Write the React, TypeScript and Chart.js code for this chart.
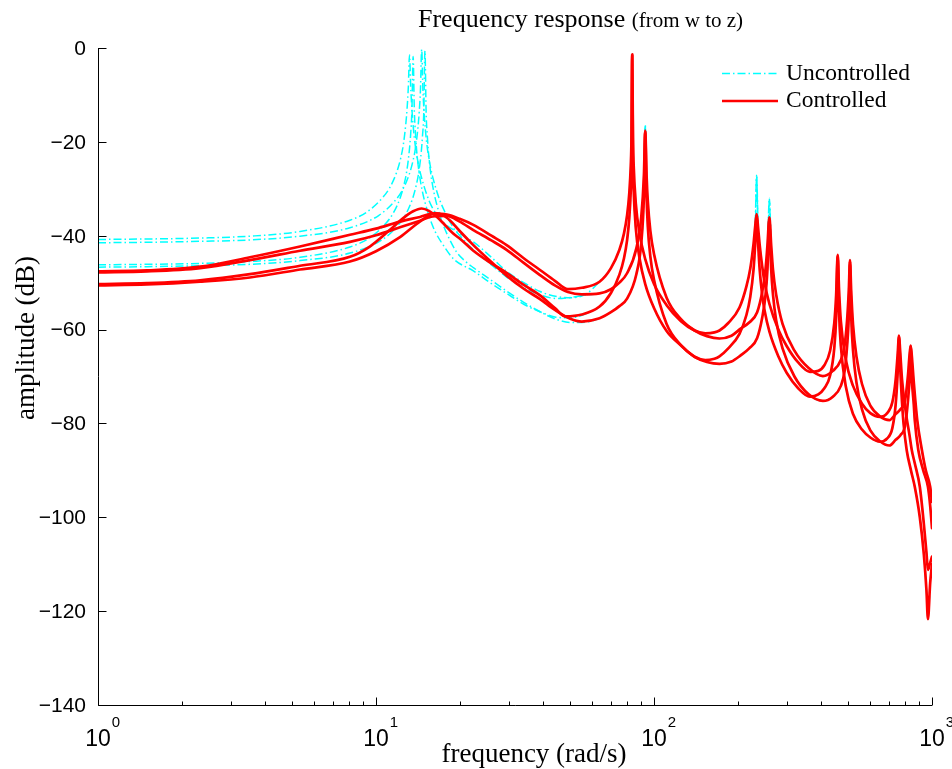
import React, { useEffect, useRef } from 'react';
import { Chart, registerables } from 'chart.js';

Chart.register(...registerables);

type Pt = [number, number];

// ---- Controlled (red, solid) : [frequency rad/s, amplitude dB]
const controlled1: Pt[] = [
  [1, -47.6], [1.5, -47.4], [2.33, -46.6], [3.52, -44.6], [5.33, -42.3], [8.06, -39.8], [10, -38.5],
  [12.2, -37.0], [14.4, -36.0], [16, -35.3], [18, -35.5], [20, -36.4], [22.4, -37.7], [26, -40.0],
  [29.5, -42.0], [34, -44.8], [38.9, -47.3], [44, -49.6], [49, -51.4], [55, -51.1], [63.7, -49.8],
  [70, -46.9], [75.1, -43.0], [78, -39.5], [80, -35.7], [81.5, -30.9], [82.5, -25.0], [83, -19.0],
  [83.5, -1.35], [84, -19.0], [84.5, -25.0], [86, -33.1], [88.7, -39.5], [93, -45.0], [100, -50.3],
  [111, -54.8], [125, -58.2], [140, -60.2], [153, -60.8], [165, -60.6], [172, -60.2], [185, -58.6],
  [203, -55.3], [215, -50.8], [222, -47.0], [228, -41.8], [231, -38.3], [234, -35.4], [237, -38.5],
  [240, -42.0], [245, -46.5], [250, -50.0], [260, -54.5], [280, -60.0], [300, -63.5], [330, -67.0],
  [364, -69.0], [390, -68.8], [410, -67.6], [430, -64.5], [445, -58.7], [452, -52.7], [458, -44.1],
  [463, -51.4], [470, -58.2], [490, -66.5], [520, -72.0], [560, -75.8], [600, -77.8], [650, -78.6],
  [690, -77.8], [720, -75.5], [740, -70.7], [752, -65.5], [761, -61.3], [768, -64.5], [780, -70.6],
  [800, -76.4], [809, -78.5], [830, -82.5], [846, -85.7], [867, -88.5], [904, -93.5], [935, -101.5],
  [955, -107.5], [967, -111.2], [982, -110.0], [1000, -108.4],
];

const controlled2: Pt[] = [
  [1, -47.8], [1.5, -47.6], [2.33, -46.9], [3.52, -45.2], [5.33, -43.2], [8.06, -41.3], [10, -39.9],
  [12.2, -38.2], [14.4, -36.8], [16, -35.9], [18, -35.8], [20, -37.0], [22.4, -38.8], [26, -41.0],
  [29.5, -43.0], [34, -45.8], [38.9, -48.4], [44, -50.6], [49, -52.0], [55, -52.5], [63.7, -52.3],
  [70, -51.4], [75.1, -50.0], [80, -48.0], [86.4, -42.7], [90, -36.0], [92, -27.1], [93, -17.6],
  [94, -26.9], [95, -32.7], [97, -38.9], [100, -43.9], [111, -53.2], [125, -57.8], [140, -60.2],
  [155, -61.4], [172, -61.9], [190, -61.3], [205, -59.8], [220, -58.5], [235, -56.3], [245, -52.0],
  [252, -47.0], [256, -41.9], [260, -36.1], [264, -42.1], [268, -47.3], [275, -52.5], [290, -58.8],
  [320, -64.5], [360, -68.2], [405, -69.9], [440, -68.8], [470, -66.5], [485, -63.3], [495, -58.0],
  [502, -51.7], [507, -45.2], [512, -51.7], [520, -59.0], [535, -65.8], [560, -71.6], [600, -76.2],
  [650, -78.5], [703, -79.3], [740, -78.0], [770, -77.0], [800, -75.1], [820, -69.6], [830, -65.5],
  [838, -63.4], [846, -65.6], [860, -71.2], [885, -79.3], [920, -85.7], [950, -90.0], [985, -93.5],
  [1000, -96.7],
];

const controlled3: Pt[] = [
  [1, -50.3], [1.5, -50.1], [2.33, -49.5], [3.52, -48.2], [5.33, -46.4], [8.06, -44.5], [9.5, -42.3],
  [11.2, -38.8], [12.5, -36.3], [13.6, -34.8], [14.6, -34.2], [15.5, -34.7], [16.5, -35.9], [17.5, -37.4],
  [19, -39.6], [20.1, -40.7], [22.4, -43.2], [26, -45.9], [29.5, -47.9], [34, -50.5], [38.9, -52.7],
  [44, -55.4], [48, -57.2], [55, -56.8], [63.7, -55.1], [70, -52.2], [75.1, -48.3], [78, -44.8],
  [80, -41.0], [81.5, -36.2], [82.5, -30.3], [83, -24.3], [83.5, -1.6], [84, -24.3], [84.5, -30.3],
  [86, -38.4], [88.7, -44.8], [93, -50.3], [100, -55.4], [111, -60.3], [125, -63.4], [140, -65.8],
  [153, -66.5], [165, -66.2], [172, -65.7], [185, -64.0], [203, -60.9], [215, -56.9], [222, -53.0],
  [228, -47.3], [231, -42.2], [234, -35.6], [237, -41.9], [240, -47.3], [245, -52.6], [250, -56.0],
  [260, -60.4], [280, -65.7], [300, -69.2], [330, -72.5], [364, -74.3], [390, -73.8], [410, -72.5],
  [430, -69.8], [445, -64.0], [452, -57.5], [458, -44.4], [463, -56.2], [470, -63.5], [490, -72.2],
  [520, -78.0], [560, -81.3], [600, -83.0], [650, -83.9], [690, -83.2], [720, -81.0], [740, -76.0],
  [752, -69.5], [761, -61.5], [768, -67.8], [780, -75.4], [790, -80.0], [811, -85.7], [840, -90.0],
  [867, -93.5], [904, -100.0], [935, -108.0], [955, -115.5], [967, -121.7], [985, -114.0], [1000, -110.0],
];

const controlled4: Pt[] = [
  [1, -50.6], [1.5, -50.4], [2.33, -49.8], [3.52, -48.9], [5.33, -47.2], [8.06, -45.5], [10, -43.3],
  [12.2, -40.3], [14, -37.5], [15.3, -35.9], [16.3, -35.2], [17.3, -35.5], [18.5, -36.8], [20, -39.0],
  [22.4, -42.0], [26, -45.6], [29.5, -48.5], [34, -51.3], [38.9, -53.5], [44, -55.8], [50, -57.7],
  [55, -58.3], [63.7, -57.6], [70, -56.3], [75.1, -55.0], [80, -53.4], [86.4, -48.2], [90, -41.5],
  [92, -31.5], [93, -17.8], [94, -31.3], [95, -38.0], [97, -44.4], [100, -49.4], [111, -58.8],
  [125, -63.3], [140, -65.8], [155, -66.9], [172, -67.3], [190, -66.8], [205, -65.5], [220, -64.0],
  [235, -61.8], [245, -57.5], [252, -52.5], [256, -47.0], [260, -36.4], [264, -47.2], [268, -52.6],
  [275, -58.0], [290, -64.0], [320, -70.0], [360, -73.8], [405, -75.2], [440, -74.3], [470, -72.0],
  [485, -68.8], [495, -63.5], [502, -57.0], [507, -45.5], [512, -57.0], [520, -64.5], [535, -71.3],
  [560, -77.0], [600, -81.5], [650, -83.8], [703, -84.7], [740, -83.5], [770, -82.5], [800, -80.5],
  [820, -75.0], [830, -70.5], [838, -63.6], [846, -70.5], [860, -76.0], [867, -79.3], [893, -85.7],
  [930, -90.0], [967, -93.5], [985, -97.5], [1000, -102.3],
];

// ---- Uncontrolled (cyan, dash-dot): low-frequency part (own values)
const uncontrolledLow1: Pt[] = [
  [1, -40.8], [1.5, -40.7], [2.33, -40.5], [3.52, -40.1], [5.33, -39.1], [8.06, -36.7], [9.24, -35.0],
  [10.56, -31.9], [11.22, -29.7], [11.88, -26.4], [12.28, -23.4], [12.54, -20.6], [12.8, -16.2],
  [12.94, -12.8], [13.07, -8.3], [13.2, -1.5], [13.33, -8.3], [13.46, -12.9], [13.6, -16.5],
  [13.86, -21.0], [14.26, -25.2], [14.52, -27.2], [15.18, -31.0], [15.84, -33.7], [17.2, -36.8],
  [19.8, -39.4], [22.4, -41.3], [26, -44.6], [29.5, -47.6], [34, -50.0], [38.9, -51.9], [45, -53.0],
  [51, -53.2], [57, -52.4],
];
const uncontrolledLow2: Pt[] = [
  [1, -41.5], [1.5, -41.4], [2.33, -41.2], [3.52, -40.9], [5.33, -40.1], [8.06, -38.3], [10.22, -35.7],
  [11.68, -32.6], [12.41, -30.4], [13.14, -27.1], [13.58, -24.1], [13.87, -21.3], [14.16, -16.9],
  [14.31, -13.5], [14.45, -9.0], [14.6, -0.3], [14.75, -9.0], [14.89, -13.6], [15.04, -17.2],
  [15.33, -21.7], [15.77, -25.9], [16.06, -27.9], [16.79, -31.7], [17.52, -34.4], [18.98, -38.3],
  [20.4, -40.5], [22.4, -43.0], [26, -46.2], [29.5, -48.8], [34, -51.0], [38.9, -52.6], [45, -53.4],
  [51, -53.1], [57, -52.6],
];
const uncontrolledLow3: Pt[] = [
  [1, -46.2], [1.5, -46.1], [2.33, -45.9], [3.52, -45.5], [5.33, -44.6], [8.06, -42.4], [9.52, -40.4],
  [10.88, -37.3], [11.56, -35.1], [12.24, -31.8], [12.65, -28.8], [12.92, -26.0], [13.19, -21.6],
  [13.33, -18.2], [13.46, -13.5], [13.6, -1.8], [13.74, -13.5], [13.87, -18.3], [14.01, -22.0],
  [14.28, -26.4], [14.69, -30.6], [14.96, -32.6], [15.64, -36.4], [16.32, -39.1], [17.68, -42.5],
  [19.04, -45.0], [22.4, -47.5], [26, -50.2], [29.5, -52.3], [34, -54.6], [38.9, -56.2], [44, -57.3],
  [50, -57.5], [57, -56.6],
];
const uncontrolledLow4: Pt[] = [
  [1, -46.7], [1.5, -46.6], [2.33, -46.4], [3.52, -46.1], [5.33, -45.3], [8.06, -43.7], [10.5, -40.9],
  [12, -37.8], [12.75, -35.6], [13.5, -32.3], [13.95, -29.3], [14.25, -26.5], [14.55, -22.1],
  [14.7, -18.7], [14.85, -14.0], [15.0, -0.6], [15.15, -14.0], [15.3, -18.8], [15.45, -22.4],
  [15.75, -26.9], [16.2, -31.1], [16.5, -33.1], [17.25, -36.9], [18, -39.6], [19.5, -43.5], [21, -45.5],
  [22.4, -46.8], [26, -49.5], [29.5, -51.8], [34, -54.2], [38.9, -56.2], [44, -57.7], [50, -58.5],
  [57, -58.4],
];
// Uncontrolled resonance tips that stand above the controlled ones (higher frequencies)
const uncontrolledPeaks1: Pt[] = [[234, -27.1]];
const uncontrolledPeaks2: Pt[] = [[93, -16.4], [260, -32.0]];
const uncontrolledPeaks3: Pt[] = [[234, -27.3]];
const uncontrolledPeaks4: Pt[] = [[93, -16.6], [260, -32.3]];

// ---- Axes / text
const yTickValues = [0, -20, -40, -60, -80, -100, -120, -140];
const xDecades = [1, 10, 100, 1000];
const xDecadeExponents = ['0', '1', '2', '3'];
const xMinorMultipliers = [2, 3, 4, 5, 6, 7, 8, 9];
const titleMain = 'Frequency response';
const titleSub = '(from w to z)';
const xAxisTitle = 'frequency (rad/s)';
const yAxisTitle = 'amplitude (dB)';
const legendLabels = ['Uncontrolled', 'Controlled'];

const CYAN = '#00FFFF';
const RED = '#FF0000';
const DASH_DOT = [8, 3, 1.5, 3];
const MERGE_FROM = 60;

function toXY(pts: Pt[]) {
  return pts.map(([x, y]) => ({ x, y }));
}

function buildUncontrolled(low: Pt[], ctrl: Pt[], peaks: Pt[]) {
  const peakMap = new Map<number, number>(peaks.map(([f, v]) => [f, v] as [number, number]));
  const hi: Pt[] = ctrl
    .filter(([f]) => f > MERGE_FROM)
    .map(([f, v]) => [f, peakMap.has(f) ? (peakMap.get(f) as number) : v]);
  return toXY([...low, ...hi]);
}

const SERIF = '"Liberation Serif", "Times New Roman", serif';
const SANS = '"Liberation Sans", Arial, sans-serif';

const decorPlugin = {
  id: 'matlabDecor',
  beforeDraw(chart: any) {
    const { ctx, width, height } = chart;
    ctx.save();
    ctx.fillStyle = '#ffffff';
    ctx.fillRect(0, 0, width, height);
    ctx.restore();
  },
  afterDraw(chart: any) {
    const { ctx, chartArea: a } = chart;
    const xs = chart.scales.x;
    const ys = chart.scales.y;
    ctx.save();
    ctx.strokeStyle = '#000';
    ctx.fillStyle = '#000';
    ctx.lineWidth = 1;

    const left = Math.round(a.left) + 0.5;
    const bottom = Math.round(a.bottom) + 0.5;

    ctx.beginPath();
    ctx.moveTo(left, a.top);
    ctx.lineTo(left, bottom);
    ctx.lineTo(a.right, bottom);
    for (const v of yTickValues) {
      const py = Math.round(ys.getPixelForValue(v)) + 0.5;
      ctx.moveTo(left, py);
      ctx.lineTo(left + 8, py);
    }
    xDecades.forEach((d, i) => {
      const px = Math.round(xs.getPixelForValue(d)) + 0.5;
      ctx.moveTo(px, bottom);
      ctx.lineTo(px, bottom - 8);
      if (i < xDecades.length - 1) {
        for (const m of xMinorMultipliers) {
          const pm = Math.round(xs.getPixelForValue(d * m)) + 0.5;
          ctx.moveTo(pm, bottom);
          ctx.lineTo(pm, bottom - 4);
        }
      }
    });
    ctx.stroke();

    // y tick labels
    ctx.font = `21px ${SANS}`;
    ctx.textAlign = 'right';
    ctx.textBaseline = 'middle';
    for (const v of yTickValues) {
      const label = v === 0 ? '0' : '\u2212' + Math.abs(v);
      ctx.fillText(label, a.left - 12, ys.getPixelForValue(v) + 1);
    }

    // x tick labels 10^n
    ctx.textBaseline = 'alphabetic';
    xDecades.forEach((d, i) => {
      const px = xs.getPixelForValue(d);
      ctx.font = `23px ${SANS}`;
      const w = ctx.measureText('10').width;
      ctx.textAlign = 'left';
      ctx.fillText('10', px - w / 2, a.bottom + 41);
      ctx.font = `15px ${SANS}`;
      ctx.fillText(xDecadeExponents[i], px + w / 2 + 1, a.bottom + 22);
    });

    // axis titles
    ctx.font = `27px ${SERIF}`;
    ctx.textAlign = 'center';
    ctx.textBaseline = 'alphabetic';
    ctx.fillText(xAxisTitle, 534, 762);
    ctx.save();
    ctx.translate(27, 338);
    ctx.rotate(-Math.PI / 2);
    ctx.textBaseline = 'middle';
    ctx.fillText(yAxisTitle, 0, 0);
    ctx.restore();

    // title
    ctx.textAlign = 'left';
    ctx.textBaseline = 'alphabetic';
    ctx.font = `26px ${SERIF}`;
    ctx.fillText(titleMain, 418, 27);
    const tw = ctx.measureText(titleMain + ' ').width;
    ctx.font = `21px ${SERIF}`;
    ctx.fillText(titleSub, 418 + tw, 27);

    // legend
    const lx0 = 722, lx1 = 778;
    ctx.lineWidth = 1.5;
    ctx.strokeStyle = CYAN;
    ctx.setLineDash(DASH_DOT);
    ctx.beginPath();
    ctx.moveTo(lx0, 73.5);
    ctx.lineTo(lx1, 73.5);
    ctx.stroke();
    ctx.setLineDash([]);
    ctx.lineWidth = 2.7;
    ctx.strokeStyle = RED;
    ctx.beginPath();
    ctx.moveTo(lx0, 101);
    ctx.lineTo(lx1, 101);
    ctx.stroke();
    ctx.fillStyle = '#000';
    ctx.font = `23.5px ${SERIF}`;
    ctx.textBaseline = 'middle';
    ctx.fillText(legendLabels[0], 786, 74);
    ctx.fillText(legendLabels[1], 786, 101);

    ctx.restore();
  },
};

export default function App() {
  const ref = useRef<HTMLCanvasElement | null>(null);

  useEffect(() => {
    if (!ref.current) return;
    const controlled = [controlled1, controlled2, controlled3, controlled4];
    const uncontrolled = [
      buildUncontrolled(uncontrolledLow1, controlled1, uncontrolledPeaks1),
      buildUncontrolled(uncontrolledLow2, controlled2, uncontrolledPeaks2),
      buildUncontrolled(uncontrolledLow3, controlled3, uncontrolledPeaks3),
      buildUncontrolled(uncontrolledLow4, controlled4, uncontrolledPeaks4),
    ];
    const datasets: any[] = [
      ...uncontrolled.map((d) => ({
        label: legendLabels[0],
        data: d,
        showLine: true,
        borderColor: CYAN,
        backgroundColor: CYAN,
        borderWidth: 1.5,
        borderDash: DASH_DOT,
        borderJoinStyle: 'round',
        pointRadius: 0,
        cubicInterpolationMode: 'monotone',
        fill: false,
        order: 2,
      })),
      ...controlled.map((d) => ({
        label: legendLabels[1],
        data: toXY(d),
        showLine: true,
        borderColor: RED,
        backgroundColor: RED,
        borderWidth: 2.7,
        borderJoinStyle: 'round',
        borderCapStyle: 'round',
        pointRadius: 0,
        cubicInterpolationMode: 'monotone',
        fill: false,
        order: 1,
      })),
    ];
    const chart = new Chart(ref.current, {
      type: 'scatter',
      data: { datasets },
      options: {
        responsive: false,
        animation: false,
        devicePixelRatio: 1,
        layout: { padding: { left: 98, right: 20, top: 48, bottom: 64 } },
        scales: {
          x: { type: 'logarithmic', min: 1, max: 1000, display: false },
          y: { type: 'linear', min: -140, max: 0, display: false },
        },
        plugins: {
          legend: { display: false },
          title: { display: false },
          tooltip: { enabled: false },
        },
        events: [],
      },
      plugins: [decorPlugin],
    } as any);
    return () => chart.destroy();
  }, []);

  return (
    <div style={{ position: 'fixed', left: 0, top: 0, width: 952, height: 769, background: '#fff' }}>
      <canvas ref={ref} width={952} height={769} style={{ display: 'block' }} />
    </div>
  );
}
